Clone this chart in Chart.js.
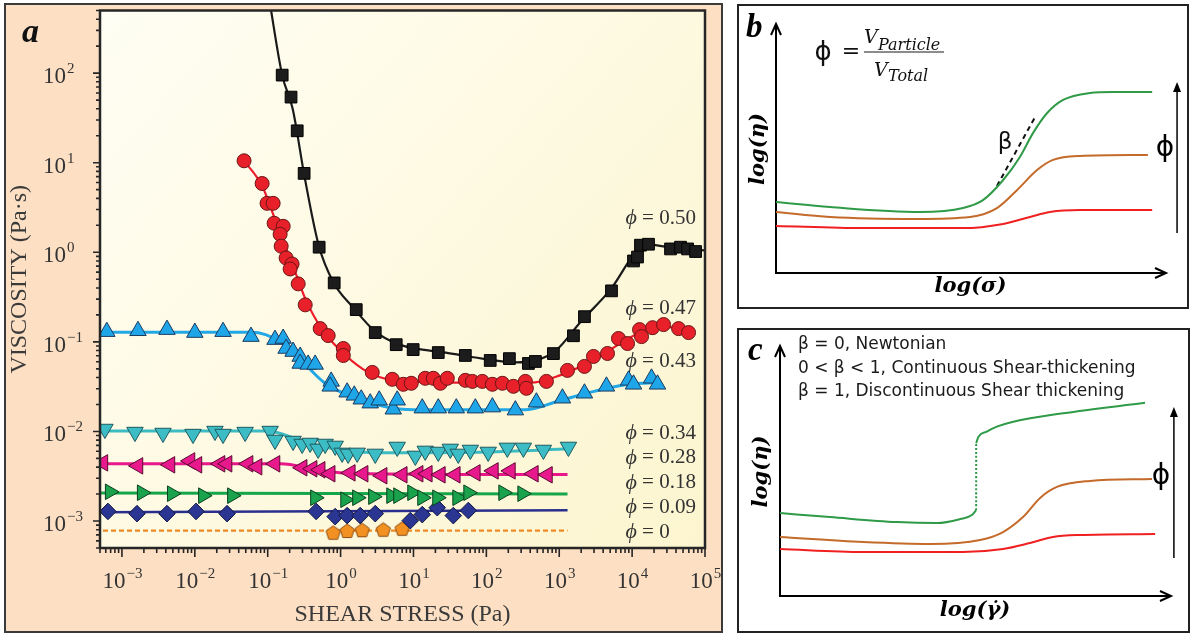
<!DOCTYPE html>
<html>
<head>
<meta charset="utf-8">
<script src="https://cdn.jsdelivr.net/npm/chart.js@4.4.1/dist/chart.umd.min.js"></script>
<style>
  body { margin: 0; background: #fff; width: 1190px; height: 635px; position: relative; overflow: hidden; }
  .box { position: absolute; box-sizing: border-box; }
  #boxA { left: 4px; top: 3px; width: 719px; height: 630px; background: #fde0c4; border: 2px solid #3a3a3a; }
  #boxB { left: 737px; top: 4px; width: 452px; height: 305px; border: 2px solid #222; }
  #boxC { left: 737px; top: 328px; width: 453px; height: 305px; border: 2px solid #222; }
  canvas { position: absolute; }
  #chartA { left: 0; top: 0; }
  #chartB { left: 737px; top: 4px; }
  #chartC { left: 737px; top: 328px; }
</style>
</head>
<body>
<div class="box" id="boxA"></div>
<div class="box" id="boxB"></div>
<div class="box" id="boxC"></div>
<canvas id="chartA" width="725" height="635"></canvas>
<canvas id="chartB" width="452" height="304"></canvas>
<canvas id="chartC" width="453" height="304"></canvas>
<script>
// ---------- panel a : viscosity vs shear stress (log-log) ----------
const xDecades = [-3, -2, -1, 0, 1, 2, 3, 4, 5];
const yDecades = [-3, -2, -1, 0, 1, 2];

// measured points [shear stress Pa, viscosity Pa.s]
const phi050 = [[0.158,95],[0.209,54],[0.254,22.7],[0.316,7.6],[0.508,1.14],[0.817,0.455],[1.64,0.229],[2.99,0.127],[5.8,0.093],[9.9,0.082],[21.9,0.076],[51.5,0.0705],[113,0.062],[207,0.065],[378,0.0574],[471,0.0604],[832,0.074],[1567,0.117],[2218,0.191],[5212,0.371],[10450,0.80],[11860,0.885],[13030,1.20],[16790,1.23],[33650,1.09],[46200,1.14],[57700,1.09],[74300,1.02]];
const phi047 = [[0.0474,10.5],[0.0838,5.86],[0.098,3.52],[0.1187,3.52],[0.1225,2.11],[0.163,1.95],[0.148,1.59],[0.153,1.17],[0.179,0.863],[0.216,0.74],[0.203,0.651],[0.262,0.444],[0.327,0.259],[0.525,0.1406],[0.676,0.1175],[1.09,0.0843],[1.09,0.0705],[2.72,0.0456],[5.12,0.0382],[7.25,0.0336],[9.33,0.0345],[14.5,0.0392],[18.7,0.0392],[23.4,0.0345],[29.1,0.0392],[51.5,0.0372],[64.3,0.0362],[88,0.0362],[121,0.0336],[166,0.0345],[235,0.0319],[343,0.0362],[354,0.0303],[667,0.0362],[1297,0.048],[2218,0.0532],[2950,0.0687],[4594,0.0742],[6500,0.109],[8650,0.0958],[12650,0.137],[13460,0.1145],[19060,0.144],[27000,0.156],[43400,0.1406],[59500,0.127]];
const phi043 = [[6.2e-4,0.130],[1.66e-3,0.133],[4.15e-3,0.137],[0.01,0.127],[0.0244,0.130],[0.059,0.1145],[0.126,0.106],[0.163,0.109],[0.179,0.0843],[0.223,0.078],[0.279,0.0687],[0.279,0.0574],[0.359,0.056],[0.448,0.056],[0.743,0.0362],[0.72,0.0319],[1.23,0.0274],[1.54,0.0253],[1.92,0.0229],[2.55,0.0207],[3.39,0.0223],[5.28,0.0177],[5.99,0.0223],[13.2,0.0182],[21.9,0.0182],[38.7,0.0182],[70.6,0.0182],[121,0.0187],[250,0.0173],[486,0.0212],[1107,0.0235],[2218,0.0267],[4446,0.0319],[8930,0.0372],[10450,0.0336],[18460,0.0392],[22300,0.0336]];
const phi034 = [[5.84e-4,0.01064],[1.51e-3,0.00984],[3.66e-3,0.0096],[9.44e-3,0.00935],[0.0189,0.0101],[0.0244,0.00935],[0.049,0.00984],[0.108,0.0101],[0.126,0.00803],[0.223,0.00782],[0.297,0.00724],[0.382,0.00743],[0.492,0.00638],[0.614,0.00724],[0.843,0.00689],[1.05,0.00576],[1.27,0.00561],[1.69,0.00576],[2.99,0.00561],[5.98,0.00671],[10.6,0.00533],[14.5,0.00606],[21.9,0.0059],[32,0.00638],[41.2,0.00561],[60.3,0.00621],[106,0.0059],[194,0.00655],[322,0.00655],[606,0.00621],[1337,0.00671]];
const phi028 = [[5.48e-4,0.00446],[1.66e-3,0.00413],[4.56e-3,0.00424],[8.59e-3,0.00469],[0.0107,0.00424],[0.0222,0.00435],[0.0277,0.00435],[0.0538,0.00435],[0.0715,0.00403],[0.126,0.00435],[0.297,0.00393],[0.407,0.00383],[0.525,0.00373],[0.72,0.00337],[1.36,0.00345],[2.04,0.00337],[3.72,0.0032],[7.02,0.00328],[11.6,0.00337],[15.5,0.00337],[23.4,0.00328],[37.5,0.00328],[70.6,0.00345],[125,0.00363],[214,0.00363],[442,0.00337],[689,0.00328]];
const phi018 = [[6.84e-4,0.00212],[1.88e-3,0.00207],[4.86e-3,0.00202],[0.013,0.00192],[0.0325,0.00192],[0.448,0.00182],[1.16,0.00173],[1.69,0.00182],[2.8,0.00187],[4.96,0.00192],[6.18,0.00192],[9.63,0.00207],[13.2,0.00182],[21.2,0.00182],[40,0.00182],[56.6,0.00207],[171,0.00207],[312,0.00202]];
const phi009 = [[6.42e-4,0.00128],[1.61e-3,0.00121],[4.15e-3,0.00121],[0.0104,0.00128],[0.0277,0.00121],[0.462,0.00128],[0.843,0.00112],[1.23,0.00115],[1.86,0.00115],[2.99,0.00121],[9.04,0.00101],[13.2,0.00118],[21.2,0.00141],[35.2,0.00115],[56.6,0.00131]];
const phi000 = [[0.79,7.5e-4],[1.23,7.85e-4],[1.98,8.0e-4],[3.85,8.1e-4],[7.0,8.3e-4]];

// fitted curves
const fit050 = [[0.104,700],[0.158,95],[0.22,40],[0.32,7],[0.5,1.2],[0.8,0.46],[1.5,0.24],[3,0.13],[6,0.095],[10,0.085],[30,0.075],[100,0.064],[250,0.059],[500,0.063],[900,0.08],[2000,0.17],[5000,0.38],[13000,1.15],[17000,1.22],[40000,1.1],[100000,1.05]];
const fit047 = [[0.0474,10.5],[0.084,5.5],[0.12,2.6],[0.16,1.4],[0.22,0.72],[0.33,0.3],[0.55,0.14],[1,0.08],[2,0.05],[4,0.039],[10,0.036],[100,0.035],[400,0.035],[1000,0.042],[3000,0.063],[10000,0.115],[25000,0.15],[60000,0.13]];
const fit043 = [[5e-4,0.128],[0.06,0.128],[0.15,0.1],[0.3,0.06],[0.6,0.035],[1.5,0.024],[4,0.019],[10,0.0175],[100,0.0175],[350,0.0175],[1000,0.022],[3000,0.028],[10000,0.034],[22000,0.035]];
const fit034 = [[5e-4,0.0101],[0.1,0.0101],[0.3,0.0078],[1,0.0062],[3,0.0058],[10,0.0058],[100,0.0059],[1400,0.0064]];
const fit028 = [[5e-4,0.00435],[0.15,0.00435],[0.5,0.0037],[1.5,0.0034],[1300,0.0033]];
const fit018 = [[5e-4,0.00205],[1300,0.002]];
const fit009 = [[5e-4,0.00125],[1300,0.00132]];
const fit000 = [[5.5e-4,7.8e-4],[1300,7.8e-4]];

const phiLabels = ['0.50', '0.47', '0.43', '0.34', '0.28', '0.18', '0.09', '0'];
const phiLabelY = [2.4, 0.234, 0.0604, 0.0096, 0.00507, 0.00267, 0.00141, 7.45e-4];
const phiLabelX = 8100;

// ---------- panels b, c : schematic curves (arbitrary log units 0-100) ----------
const greenB = [[0,28.6],[13.9,26.6],[37,24.6],[48.1,26.2],[53.2,29.4],[58.4,37.5],[62.7,46.8],[66.1,56.5],[69.7,64.5],[73.8,69.8],[80.7,72.6],[86.6,73],[96.7,73]];
const brownB = [[0,24.6],[13.9,22.6],[36.2,21.8],[49.9,22.6],[56.8,26.2],[62,33.5],[67.1,41.5],[71.2,45.6],[78.1,47.2],[95.6,47.6]];
const redB = [[0,19],[22.4,18.1],[48.1,18.1],[58.4,19.8],[65.3,22.6],[70.4,24.6],[78.1,25.4],[96.7,25.4]];
const betaB = [[56.8,35.1],[66.6,62.9]];

const greenC1 = [[0,33.3],[12.8,31.7],[30,29.7],[40.3,29.3],[46.2,30.9],[49.2,32.5],[50.3,34.5]];
const greenCJump = [[50.3,34.5],[50.3,61.4]];
const greenC2 = [[50.3,61.4],[50.9,64],[53,66],[55.6,68],[59.8,70],[72.6,73.4],[93.6,77.6]];
const brownC = [[0,23.7],[21.3,21.7],[38.5,20.9],[51.3,22.5],[57.2,25.7],[62.3,31.7],[66.7,39.4],[71,43.8],[79.5,46.2],[95.4,47]];
const redC = [[0,18.9],[21.3,17.7],[46.9,17.7],[57.2,18.9],[64.1,21.3],[70,23.7],[76.9,24.5],[96.2,24.9]];
const regimeText = ['\u03b2 = 0, Newtonian', '0 < \u03b2 < 1, Continuous Shear-thickening', '\u03b2 = 1, Discontinuous Shear thickening'];

const SERIF = '"Liberation Serif", "Times New Roman", serif';
const pts = arr => arr.map(([x, y]) => ({x, y}));

function fitLine(arr, color, width, dash) {
  return { data: pts(arr), borderColor: color, borderWidth: width, borderDash: dash || [],
    pointRadius: 0, cubicInterpolationMode: 'monotone', fill: false, order: 2 };
}
function markers(arr, style, rot, fill, stroke, r) {
  return { data: pts(arr), showLine: false, pointStyle: style, pointRotation: rot, pointRadius: r,
    pointBackgroundColor: fill, pointBorderColor: stroke, pointBorderWidth: 1, order: 1 };
}
function pentagon(size, fill, stroke) {
  const c = document.createElement('canvas');
  c.width = c.height = size;
  const g = c.getContext('2d');
  const r = size / 2 - 1;
  g.beginPath();
  for (let i = 0; i < 5; i++) {
    const a = -Math.PI / 2 + i * 2 * Math.PI / 5;
    const px = size / 2 + r * Math.cos(a), py = size / 2 + 1 + r * Math.sin(a);
    if (i) g.lineTo(px, py); else g.moveTo(px, py);
  }
  g.closePath();
  g.fillStyle = fill; g.fill();
  g.strokeStyle = stroke; g.lineWidth = 1; g.stroke();
  return c;
}

function drawPow(ctx, x, baseline, e, align) {
  const base = '10', exp = e < 0 ? '\u2212' + (-e) : String(e);
  ctx.font = '23px ' + SERIF;
  const bw = ctx.measureText(base).width;
  ctx.font = '15px ' + SERIF;
  const ew = ctx.measureText(exp).width;
  const x0 = align === 'center' ? x - (bw + ew) / 2 : x;
  ctx.textAlign = 'left'; ctx.textBaseline = 'alphabetic';
  ctx.font = '23px ' + SERIF;
  ctx.fillText(base, x0, baseline);
  ctx.font = '15px ' + SERIF;
  ctx.fillText(exp, x0 + bw + 1, baseline - 10);
}

const panelA = {
  id: 'panelA',
  beforeDraw(chart) {
    const {ctx, chartArea: a} = chart;
    const g = ctx.createLinearGradient(a.left, a.top, a.right, a.bottom);
    g.addColorStop(0, '#fffef4');
    g.addColorStop(1, '#fcf5cf');
    ctx.save();
    ctx.fillStyle = g;
    ctx.fillRect(a.left, a.top, a.right - a.left, a.bottom - a.top);
    ctx.restore();
  },
  afterDraw(chart) {
    const {ctx, chartArea: a, scales: {x, y}} = chart;
    ctx.save();
    ctx.strokeStyle = '#262626';
    ctx.lineWidth = 2.5;
    ctx.strokeRect(a.left, a.top, a.right - a.left, a.bottom - a.top);
    // outward major/minor ticks
    ctx.lineWidth = 1.6;
    ctx.beginPath();
    for (let e = -4; e <= 5; e++) {
      for (let m = 1; m <= 9; m++) {
        const v = m * Math.pow(10, e);
        if (v >= x.min * 0.999 && v <= x.max * 1.001) {
          const px = x.getPixelForValue(v);
          ctx.moveTo(px, a.bottom); ctx.lineTo(px, a.bottom + (m === 1 ? 9 : 5));
        }
        if (v >= y.min * 0.999 && v <= y.max * 1.001) {
          const py = y.getPixelForValue(v);
          ctx.moveTo(a.left, py); ctx.lineTo(a.left - (m === 1 ? 7 : 4), py);
        }
      }
    }
    ctx.stroke();
    ctx.fillStyle = '#333';
    xDecades.forEach(e => drawPow(ctx, x.getPixelForValue(Math.pow(10, e)), a.bottom + 40, e, 'center'));
    yDecades.forEach(e => drawPow(ctx, 43, y.getPixelForValue(Math.pow(10, e)) + 10, e, 'left'));
    // phi labels
    ctx.textBaseline = 'middle';
    phiLabels.forEach((t, i) => {
      const px = x.getPixelForValue(phiLabelX), py = y.getPixelForValue(phiLabelY[i]);
      ctx.font = 'italic 22px ' + SERIF;
      ctx.fillText('\u03d5', px, py);
      const w = ctx.measureText('\u03d5').width;
      ctx.font = '21px ' + SERIF;
      ctx.fillText(' = ' + t, px + w, py);
    });
    ctx.fillStyle = '#111';
    ctx.textBaseline = 'alphabetic';
    ctx.font = 'italic bold 34px ' + SERIF;
    ctx.fillText('a', 22, 42);
    ctx.restore();
  }
};

const pent = pentagon(17, '#f39022', '#8a4a10');

new Chart(document.getElementById('chartA'), {
  type: 'line',
  data: {
    datasets: [
      fitLine(fit050, '#1a1a1a', 2.2),
      fitLine(fit047, '#ee1c2a', 2.2),
      fitLine(fit043, '#23a8e6', 3),
      fitLine(fit034, '#3cbcc2', 3),
      fitLine(fit028, '#e8178a', 3),
      fitLine(fit018, '#16a64a', 3),
      fitLine(fit009, '#2a2f8e', 2.5),
      fitLine(fit000, '#f08a24', 2.2, [5, 3]),
      markers(phi050, 'rect', 0, '#1c1c1c', '#000', 8.3),
      markers(phi047, 'circle', 0, '#e8202a', '#6a1515', 7),
      markers(phi043, 'triangle', 0, '#1ea6e8', '#1a3a60', 9.5),
      markers(phi034, 'triangle', 180, '#3cbcc4', '#1f5a60', 9.5),
      markers(phi028, 'triangle', 270, '#e8198c', '#5a0a30', 9.5),
      markers(phi018, 'triangle', 90, '#1aa24c', '#0a4020', 9),
      markers(phi009, 'rectRot', 0, '#2b3592', '#101840', 8.3),
      markers(phi000, pent, 0, '#f39022', '#8a4a10', 8)
    ]
  },
  options: {
    responsive: false,
    animation: false,
    layout: { padding: { top: 8, right: 20, left: 0, bottom: 0 } },
    plugins: { legend: { display: false }, tooltip: { enabled: false } },
    scales: {
      x: {
        type: 'logarithmic', min: 5e-4, max: 1e5,
        grid: { display: false }, border: { display: false }, ticks: { display: false },
        title: { display: true, text: 'SHEAR STRESS (Pa)', color: '#3a3a3a',
          font: { family: SERIF, size: 24 }, padding: { top: 0, bottom: 6 } },
        afterFit: s => { s.height = 87; }
      },
      y: {
        type: 'logarithmic', min: 5e-4, max: 500,
        grid: { display: false }, border: { display: false }, ticks: { display: false },
        title: { display: true, text: 'VISCOSITY (Pa\u00b7s)', color: '#3a3a3a',
          font: { family: SERIF, size: 24 }, padding: { top: 5, bottom: 0 } },
        afterFit: s => { s.width = 100; }
      }
    }
  },
  plugins: [panelA]
});

// ---------- schematic panels ----------
function schematic(opts) {
  return {
    id: 'schem' + opts.letter,
    afterDraw(chart) {
      const {ctx, chartArea: a, scales: {x, y}} = chart;
      ctx.save();
      ctx.strokeStyle = '#000';
      ctx.fillStyle = '#000';
      ctx.lineWidth = 2;
      ctx.beginPath();
      ctx.moveTo(a.left - 5, a.top + 10); ctx.lineTo(a.left, a.top - 1); ctx.lineTo(a.left + 5, a.top + 10);
      ctx.moveTo(a.right - 10, a.bottom - 5); ctx.lineTo(a.right + 1, a.bottom); ctx.lineTo(a.right - 10, a.bottom + 5);
      ctx.stroke();
      // volume fraction arrow
      const ax = x.getPixelForValue(opts.arrowX);
      const y0 = y.getPixelForValue(opts.arrowY[0]), y1 = y.getPixelForValue(opts.arrowY[1]);
      ctx.lineWidth = 1.5;
      ctx.beginPath(); ctx.moveTo(ax, y0); ctx.lineTo(ax, y1 + 6); ctx.stroke();
      ctx.beginPath(); ctx.moveTo(ax, y1); ctx.lineTo(ax - 4, y1 + 10); ctx.lineTo(ax + 4, y1 + 10); ctx.closePath(); ctx.fill();
      ctx.textAlign = 'center'; ctx.textBaseline = 'middle';
      ctx.font = '28px "DejaVu Sans", sans-serif';
      ctx.fillText('\u03d5', x.getPixelForValue(opts.phiAt[0]), y.getPixelForValue(opts.phiAt[1]));
      ctx.textAlign = 'left'; ctx.textBaseline = 'alphabetic';
      ctx.font = 'italic bold 33px ' + SERIF;
      ctx.fillText(opts.letter, opts.letterPos[0], opts.letterPos[1]);
      if (opts.extra) opts.extra(ctx, chart);
      ctx.restore();
    }
  };
}

function schemOptions(xTitle, yWidth, xHeight, pad, yTitlePad) {
  const tfont = { family: '"DejaVu Serif", serif', size: 21, style: 'italic', weight: 'bold' };
  return {
    responsive: false,
    animation: false,
    layout: { padding: pad },
    plugins: { legend: { display: false }, tooltip: { enabled: false } },
    scales: {
      x: {
        type: 'linear', min: 0, max: 100,
        grid: { display: false }, ticks: { display: false },
        border: { display: true, color: '#000', width: 2 },
        title: { display: true, text: xTitle, color: '#000', font: tfont, padding: { top: 0, bottom: 9 } },
        afterFit: s => { s.height = xHeight; }
      },
      y: {
        type: 'linear', min: 0, max: 100,
        grid: { display: false }, ticks: { display: false },
        border: { display: true, color: '#000', width: 2 },
        title: { display: true, text: 'log(\u03b7)', color: '#000', font: tfont, padding: { top: yTitlePad, bottom: 0 } },
        afterFit: s => { s.width = yWidth; }
      }
    }
  };
}

const curve = (arr, color, dash) => ({ data: pts(arr), borderColor: color, borderWidth: 2,
  borderDash: dash || [], pointRadius: 0, cubicInterpolationMode: 'monotone', fill: false });

new Chart(document.getElementById('chartB'), {
  type: 'line',
  data: {
    datasets: [
      curve(greenB, '#2f9a47'),
      curve(brownB, '#c46a2a'),
      curve(redB, '#f02020'),
      curve(betaB, '#111', [5, 4])
    ]
  },
  options: schemOptions('log(\u03c3)', 39, 35, { top: 21, right: 24, left: 0, bottom: 0 }, 9),
  plugins: [schematic({
    letter: 'b', letterPos: [9, 33], arrowX: 103.1, arrowY: [16.1, 77], phiAt: [100, 50],
    extra(ctx, chart) {
      const {x, y} = chart.scales;
      ctx.fillStyle = '#111';
      ctx.textBaseline = 'middle'; ctx.textAlign = 'center';
      ctx.font = '23px "DejaVu Sans", sans-serif';
      ctx.fillText('\u03b2', x.getPixelForValue(58.9), y.getPixelForValue(52.4));
      ctx.font = '26px "DejaVu Sans", sans-serif';
      ctx.fillText('\u03d5', 86, 49);
      ctx.font = '22px "DejaVu Sans", sans-serif';
      ctx.fillText('=', 114, 48);
      ctx.textAlign = 'left'; ctx.textBaseline = 'alphabetic';
      ctx.font = 'italic 19px "DejaVu Serif", serif';
      ctx.fillText('V', 127, 39);
      ctx.fillText('V', 137, 72);
      ctx.font = 'italic 16px "DejaVu Serif", serif';
      ctx.fillText('Particle', 141, 46);
      ctx.fillText('Total', 151, 77);
      ctx.strokeStyle = '#666'; ctx.lineWidth = 1.5;
      ctx.beginPath(); ctx.moveTo(127, 48); ctx.lineTo(207, 48); ctx.stroke();
    }
  })]
});

new Chart(document.getElementById('chartC'), {
  type: 'line',
  data: {
    datasets: [
      curve(greenC1, '#2f9a47'),
      curve(greenCJump, '#2f9a47', [2, 2]),
      curve(greenC2, '#2f9a47'),
      curve(brownC, '#c46a2a'),
      curve(redC, '#f02020')
    ]
  },
  options: schemOptions('log(\u03b3\u0307)', 43, 36, { top: 19, right: 20, left: 0, bottom: 0 }, 12),
  plugins: [schematic({
    letter: 'c', letterPos: [11, 32], arrowX: 101, arrowY: [15.3, 75.9], phiAt: [97.7, 47.8],
    extra(ctx) {
      ctx.fillStyle = '#1a1a1a';
      ctx.textAlign = 'left'; ctx.textBaseline = 'middle';
      ctx.font = '17px "DejaVu Sans", sans-serif';
      regimeText.forEach((t, i) => ctx.fillText(t, 61, 17 + i * 23.5));
    }
  })]
});
</script>
</body>
</html>
